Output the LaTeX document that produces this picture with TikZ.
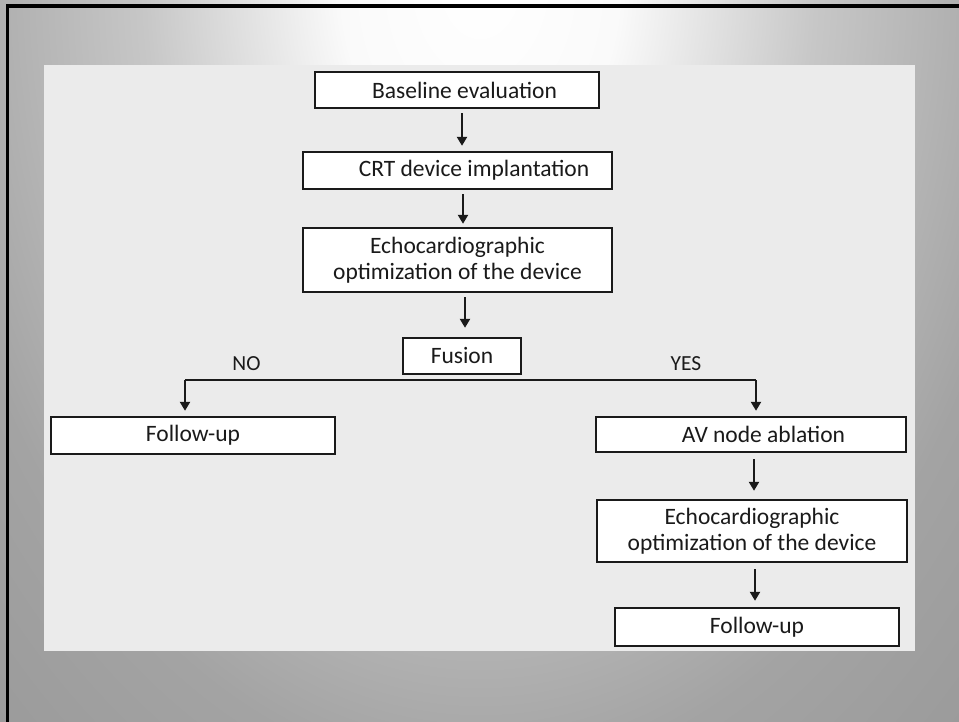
\documentclass[tikz,border=0pt]{standalone}
\usepackage{fontspec}
\setmainfont{Carlito}
\usetikzlibrary{arrows.meta}
\definecolor{inkc}{HTML}{1A1A1A}
\definecolor{panelc}{HTML}{EBEBEB}
\pgfdeclareradialshading{slidebg}{\pgfpoint{0bp}{0bp}}{color(0bp)=(white); color(5bp)=(black!2); color(12bp)=(black!22); color(20bp)=(black!36); color(30bp)=(black!42); color(50bp)=(black!50)}
\tikzset{
  flowbox/.style={draw=inkc, line width=2.4pt, fill=white, inner sep=0pt, text=inkc,
    font=\fontsize{23.5}{25.5}\selectfont, align=center},
  flowarrow/.style={draw=inkc, line width=2.4pt, -{Triangle[length=9pt,width=10pt]},
    shorten <=4pt, shorten >=5pt},
  flowline/.style={draw=inkc, line width=2.4pt},
  branchlabel/.style={text=inkc, font=\fontsize{21.5}{23}\selectfont, inner sep=0pt}
}
\begin{document}
\begin{tikzpicture}[x=1pt,y=-1pt]
\useasboundingbox (0,0) rectangle (959,722);
% slide background
\begin{scope}
\clip (0,0) rectangle (959,722);
\fill[black!40] (0,0) rectangle (959,722);
\shade[shading=slidebg] (-220,-1020) rectangle (1180,980);
\draw[black, line width=3.2pt] (7.5,740) -- (7.5,6) -- (980,6);
\end{scope}
% panel
\fill[panelc] (44,65) rectangle (915,651);

% boxes
\node[flowbox, minimum width=284pt, minimum height=36pt] (base) at (457,90) {\hspace*{15pt}Baseline evaluation};
\node[flowbox, minimum width=309pt, minimum height=37pt] (crt) at (457.5,170.5) {\hspace*{33pt}CRT device implantation};
\node[flowbox, minimum width=309pt, minimum height=64pt] (echoa) at (457.5,260) {Echocardiographic\\optimization of the device};
\node[flowbox, minimum width=118pt, minimum height=36pt] (fus) at (462,356) {Fusion};
\node[flowbox, minimum width=284pt, minimum height=37pt] (fua) at (193,435.5) {Follow-up};
\node[flowbox, minimum width=310pt, minimum height=35pt] (av) at (751,434.5) {\hspace*{25pt}AV node ablation};
\node[flowbox, minimum width=310pt, minimum height=62pt] (echob) at (752,531) {Echocardiographic\\optimization of the device};
\node[flowbox, minimum width=284pt, minimum height=38pt] (fub) at (757,627) {Follow-up};

% labels
\node[branchlabel] (nolab) at (246.5,363.5) {NO};
\node[branchlabel] (yeslab) at (686,363.5) {YES};

% arrows
\draw[flowarrow] ([xshift=5pt]base.south) -- ([xshift=5pt]base.south |- crt.north);
\draw[flowarrow, shorten >=3pt] ([xshift=5.5pt]crt.south) -- ([xshift=5.5pt]crt.south |- echoa.north);
\draw[flowarrow, shorten >=9pt] ([xshift=7.5pt]echoa.south) -- ([xshift=7.5pt]echoa.south |- fus.north);
\coordinate (split) at ([yshift=-5pt]fus.south);
\coordinate (splitL) at ([xshift=-8pt]fua.north |- split);
\coordinate (splitR) at ([xshift=5pt]av.north |- split);
\draw[flowline] (split) -- (splitL);
\draw[flowline] (split) -- (splitR);
\draw[flowarrow, shorten <=0pt] (splitL) -- ([xshift=-8pt]fua.north);
\draw[flowarrow, shorten <=0pt] (splitR) -- ([xshift=5pt]av.north);
\draw[flowarrow, shorten <=6pt, shorten >=8pt] ([xshift=3pt]av.south) -- ([xshift=3pt]av.south |- echob.north);
\draw[flowarrow, shorten <=6pt, shorten >=6pt] ([xshift=3pt]echob.south) -- ([xshift=3pt]echob.south |- fub.north);
\end{tikzpicture}
\end{document}
